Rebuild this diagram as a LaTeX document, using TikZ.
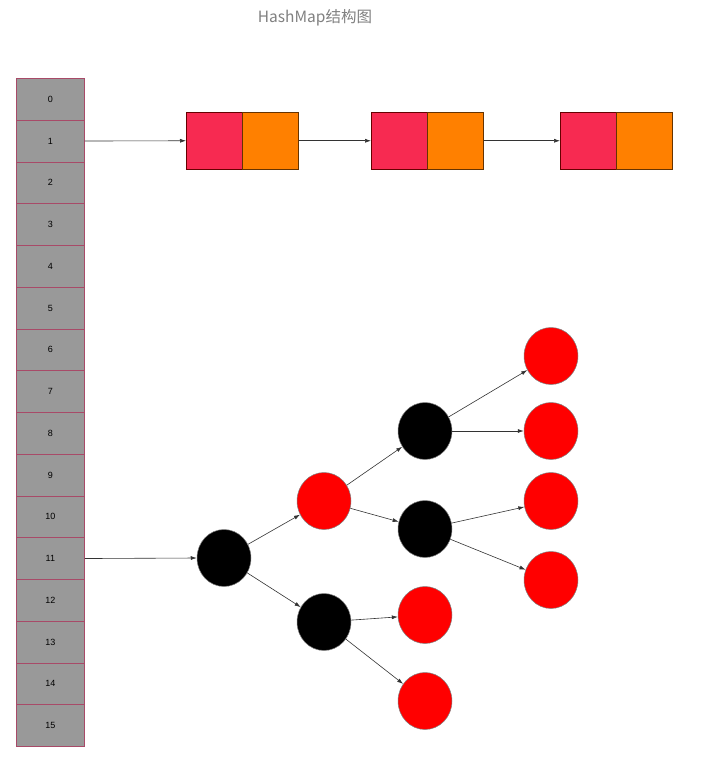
\documentclass[tikz,border=0pt]{standalone}
\usepackage{fontspec}
\setmainfont{Liberation Sans}
\newfontfamily\cjk{Noto Sans CJK SC}
\usetikzlibrary{shapes.geometric,arrows.meta}
\definecolor{cellgray}{HTML}{999999}
\definecolor{cellline}{HTML}{A84A68}
\definecolor{keyred}{HTML}{F72A51}
\definecolor{valorange}{HTML}{FF8000}
\definecolor{treered}{HTML}{FF0000}
\definecolor{arrowgray}{HTML}{333333}
\begin{document}
\begin{tikzpicture}[x=1pt,y=-1pt,
  cellbox/.style={draw=cellline,fill=cellgray,line width=0.8pt,minimum width=68pt,minimum height=41.75pt,inner sep=0pt,anchor=north west,font=\fontsize{9}{10}\selectfont},
  keybox/.style={draw=black!60!red,fill=keyred,line width=0.5pt,minimum width=56pt,minimum height=57pt,inner sep=0pt,anchor=north west},
  valbox/.style={draw=black!60!valorange,fill=valorange,line width=0.5pt,minimum width=56pt,minimum height=57pt,inner sep=0pt,anchor=north west},
  rbnode/.style={ellipse,draw=gray,line width=0.5pt,minimum width=54pt,minimum height=57pt,inner sep=0pt},
  blk/.style={rbnode,fill=black},
  rd/.style={rbnode,fill=treered},
  link/.style={draw=arrowgray,line width=0.6pt,-{Latex[length=6pt,width=4pt]}}
]
\useasboundingbox (0,0) rectangle (705,779);
\node[font=\cjk\fontsize{15.5}{17}\selectfont,text=gray] (title) at (315,18) {HashMap结构图};
\foreach \i in {0,...,15}{
  \node[cellbox] (c\i) at (16,{78+\i*41.75}) {\i};
}
\node[keybox] (k1) at (186,112) {};
\node[valbox] (v1) at (242,112) {};
\node[keybox] (k2) at (371,112) {};
\node[valbox] (v2) at (427,112) {};
\node[keybox] (k3) at (560,112) {};
\node[valbox] (v3) at (616,112) {};
\draw[link] (c1.east) -- (k1.west);
\draw[link] (v1.east) -- (k2.west);
\draw[link] (v2.east) -- (k3.west);
\node[blk] (root) at (224,558) {};
\node[rd] (a) at (324,501) {};
\node[blk] (b) at (324,622) {};
\node[blk] (c) at (425,431) {};
\node[blk] (d) at (425,529) {};
\node[rd] (e) at (425,615) {};
\node[rd] (f) at (425,701) {};
\node[rd] (g) at (551,356) {};
\node[rd] (h) at (551,431) {};
\node[rd] (i) at (551,501) {};
\node[rd] (j) at (551,580) {};
\draw[link] (c11.east) -- (root.west);
\draw[link] (root) -- (a);
\draw[link] (root) -- (b);
\draw[link] (a) -- (c);
\draw[link] (a) -- (d);
\draw[link] (c) -- (g);
\draw[link] (c) -- (h);
\draw[link] (d) -- (i);
\draw[link] (d) -- (j);
\draw[link] (b) -- (e);
\draw[link] (b) -- (f);
\end{tikzpicture}
\end{document}
